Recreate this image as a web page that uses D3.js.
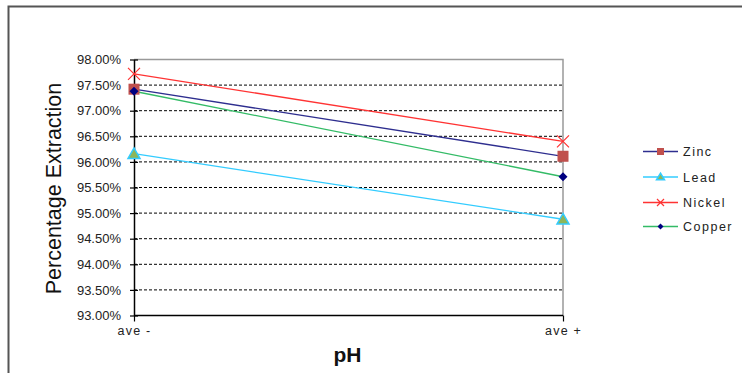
<!DOCTYPE html>
<html>
<head>
<meta charset="utf-8">
<script src="https://cdn.jsdelivr.net/npm/d3@7"></script>
<style>
  html, body { margin: 0; padding: 0; background: #fff; }
  svg { display: block; font-family: Arial, "Liberation Sans", sans-serif; }
</style>
</head>
<body>
<svg id="chart" width="742" height="373"></svg>
<script>
// Extraction efficiency per metal at the two pH conditions
const categories = ["ave -", "ave +"];
const zinc   = [0.9742, 0.9611];
const lead   = [0.9616, 0.9488];
const nickel = [0.9772, 0.9640];
const copper = [0.9738, 0.9571];
const yTicks = [0.93, 0.935, 0.94, 0.945, 0.95, 0.955, 0.96, 0.965, 0.97, 0.975, 0.98];

const series = [
  { name: "Zinc",   values: zinc,   line: "#2E2E8F", marker: "square",   fill: "#C0504D", stroke: "#C0504D" },
  { name: "Lead",   values: lead,   line: "#33CCFF", marker: "triangle", fill: "#8DB65A", stroke: "#33CCFF" },
  { name: "Nickel", values: nickel, line: "#FF3333", marker: "cross",    fill: "none",    stroke: "#FF3333" },
  { name: "Copper", values: copper, line: "#33BB66", marker: "diamond",  fill: "#000080", stroke: "#000080" }
];

const FONT = "Arial, 'Liberation Sans', sans-serif";
const svg = d3.select("#chart");
const plot = { left: 134, right: 563, top: 59.5, bottom: 315.5 };

// outer frame
svg.append("path")
  .attr("d", "M8.5,373 L8.5,6.5 L742,6.5")
  .attr("fill", "none").attr("stroke", "#555").attr("stroke-width", 2);

const x = d3.scalePoint().domain(categories).range([plot.left, plot.right]);
const y = d3.scaleLinear().domain([0.93, 0.98]).range([plot.bottom, plot.top]);

// gridlines
svg.append("g").selectAll("line")
  .data(yTicks.filter(t => t > 0.93 && t < 0.98))
  .join("line")
  .attr("x1", plot.left).attr("x2", plot.right)
  .attr("y1", d => y(d)).attr("y2", d => y(d))
  .attr("stroke", "#000").attr("stroke-width", 1)
  .attr("stroke-dasharray", "3,2");

// top and right plot border
svg.append("path")
  .attr("d", `M${plot.left},${y(0.98)} L${plot.right},${y(0.98)} L${plot.right},${plot.bottom}`)
  .attr("fill", "none").attr("stroke", "#999").attr("stroke-width", 1.5);

// y axis
const yAxis = d3.axisLeft(y).tickValues(yTicks).tickSize(0)
  .tickFormat(d3.format(".2%")).tickPadding(13);
const gy = svg.append("g").attr("transform", `translate(${plot.left},0)`).call(yAxis);
gy.select(".domain").attr("stroke", "#000").attr("stroke-width", 1.5);
gy.selectAll(".tick text").attr("font-size", 13).attr("fill", "#222").attr("font-family", FONT);
gy.selectAll(".tick").append("line")
  .attr("x1", -4).attr("x2", 4).attr("stroke", "#000").attr("stroke-width", 1.2);

// x axis
const xAxis = d3.axisBottom(x).tickSize(6).tickPadding(5);
const gx = svg.append("g").attr("transform", `translate(0,${plot.bottom})`).call(xAxis);
gx.select(".domain").attr("stroke", "#000").attr("stroke-width", 1.5).attr("d", `M${plot.left},0H${plot.right}`);
gx.selectAll(".tick line").attr("stroke", "#000").attr("stroke-width", 1.2);
gx.selectAll(".tick text").attr("font-size", 12.5).attr("letter-spacing", 1.2)
  .attr("fill", "#222").attr("font-family", FONT);

// axis titles
svg.append("text")
  .attr("transform", `translate(61,${(plot.top + plot.bottom) / 2 + 1}) rotate(-90)`)
  .attr("text-anchor", "middle").attr("font-size", 21.5).attr("fill", "#111")
  .text("Percentage Extraction");
svg.append("text")
  .attr("x", (plot.left + plot.right) / 2 - 1).attr("y", 362)
  .attr("text-anchor", "middle").attr("font-size", 21).attr("font-weight", "bold").attr("fill", "#111")
  .text("pH");

function drawMarker(g, type, cx, cy, s, size) {
  if (type === "square") {
    g.append("rect").attr("x", cx - size / 2).attr("y", cy - size / 2)
      .attr("width", size).attr("height", size).attr("fill", s.fill);
  } else if (type === "triangle") {
    const h = size * 0.95;
    g.append("path")
      .attr("d", `M${cx},${cy - h / 2 - 1} L${cx + size / 2 + 1},${cy + h / 2} L${cx - size / 2 - 1},${cy + h / 2} Z`)
      .attr("fill", s.fill).attr("stroke", s.stroke).attr("stroke-width", 1.5);
  } else if (type === "cross") {
    const r = size / 2;
    g.append("path")
      .attr("d", `M${cx - r},${cy - r} L${cx + r},${cy + r} M${cx - r},${cy + r} L${cx + r},${cy - r}`)
      .attr("stroke", s.stroke).attr("stroke-width", 1.2).attr("fill", "none");
  } else if (type === "diamond") {
    const r = size / 2;
    g.append("path")
      .attr("d", `M${cx},${cy - r} L${cx + r},${cy} L${cx},${cy + r} L${cx - r},${cy} Z`)
      .attr("fill", s.fill);
  }
}

// series lines and markers
const line = d3.line().x((d, i) => x(categories[i])).y(d => y(d));
series.forEach(s => {
  svg.append("path").datum(s.values)
    .attr("d", line).attr("fill", "none")
    .attr("stroke", s.line).attr("stroke-width", 1.3);
});
series.forEach(s => {
  const g = svg.append("g");
  s.values.forEach((v, i) => {
    const sz = s.marker === "square" ? 11 : s.marker === "triangle" ? 10 : s.marker === "cross" ? 12 : 9;
    drawMarker(g, s.marker, x(categories[i]), y(v), s, sz);
  });
});

// legend
const legY = [151.5, 177, 202.5, 226.5];
const leg = svg.append("g");
series.forEach((s, i) => {
  const ly = legY[i];
  leg.append("line").attr("x1", 643).attr("x2", 678).attr("y1", ly).attr("y2", ly)
    .attr("stroke", s.line).attr("stroke-width", 1.3);
  const sz = s.marker === "square" ? 7 : s.marker === "triangle" ? 6 : s.marker === "cross" ? 7 : 6;
  drawMarker(leg, s.marker, 660.5, ly, s, sz);
  leg.append("text").attr("x", 683).attr("y", ly + 4.5)
    .attr("font-size", 12.5).attr("letter-spacing", 1.5).attr("fill", "#222")
    .text(s.name);
});
</script>
</body>
</html>
